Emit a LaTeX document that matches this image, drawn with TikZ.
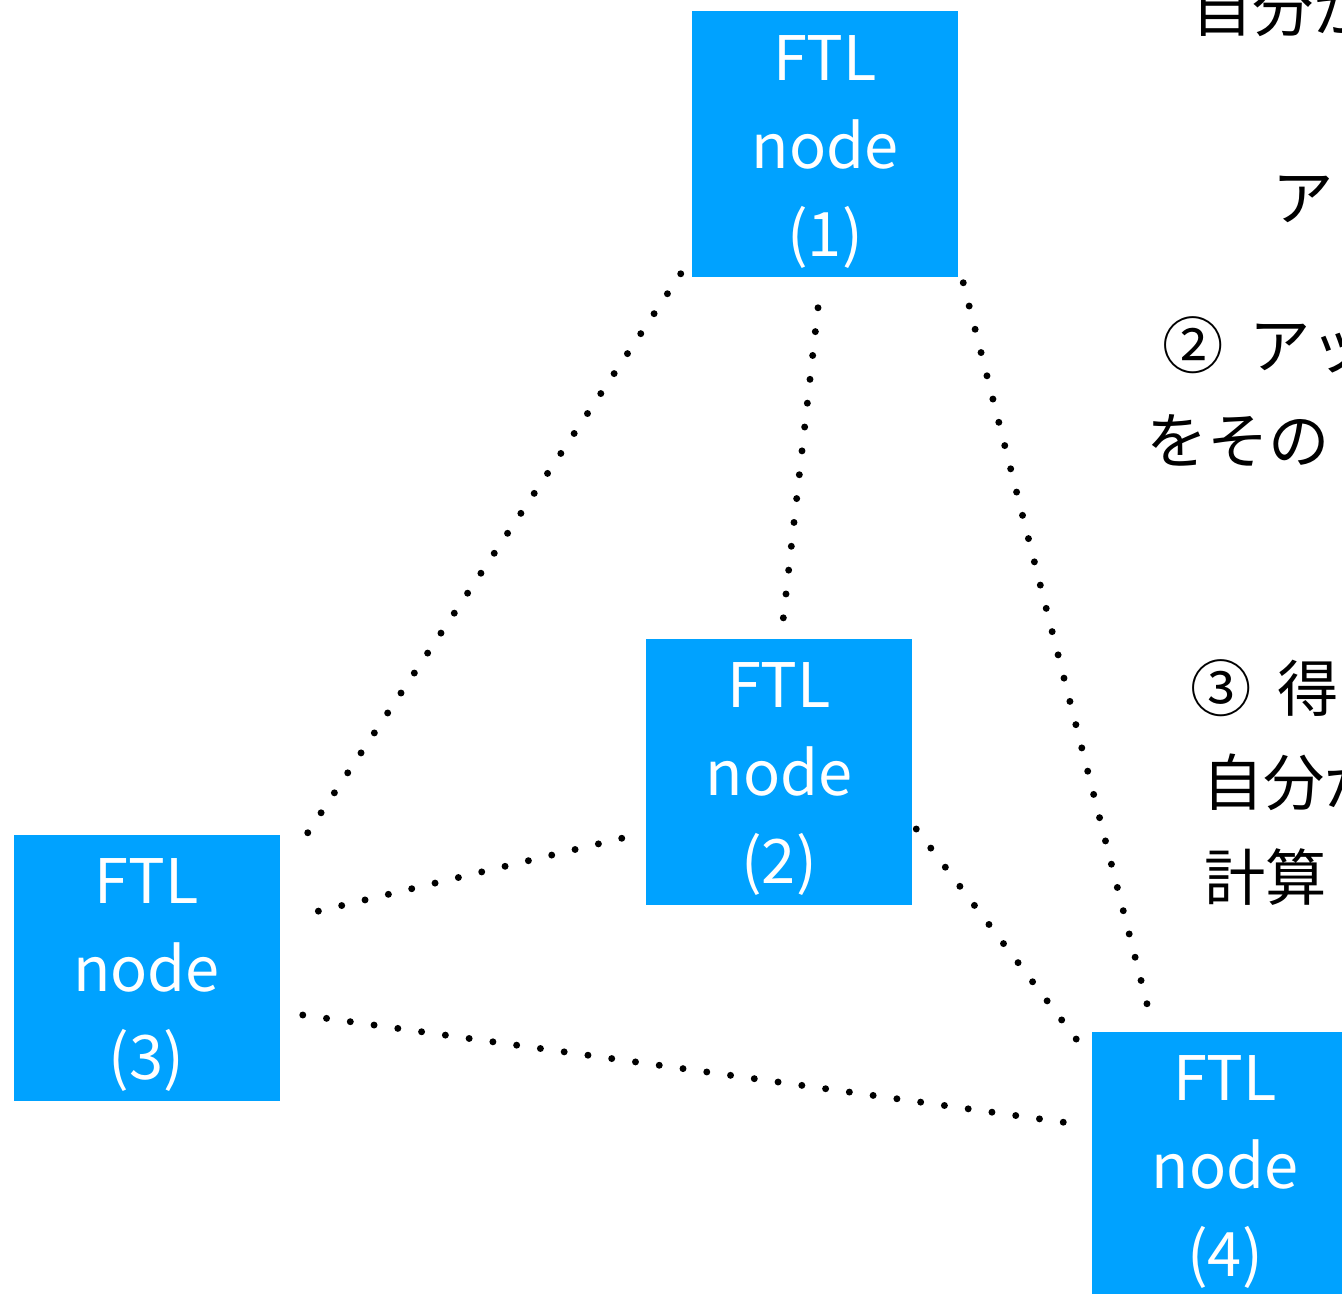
\documentclass[tikz,border=0pt]{standalone}
\usepackage{fontspec}
\setmainfont{Noto Sans CJK JP}
\usetikzlibrary{positioning}
\definecolor{ftlblue}{RGB}{0,162,255}
\tikzset{
	ftltext/.style={text=white, inner sep=0pt, align=center, font=\fontsize{46}{66}\selectfont},
	ftlbox/.style={fill=ftlblue, minimum width=199.5pt, minimum height=199.5pt, inner sep=0pt,
		label={[ftltext, yshift=-5.5pt]center:FTL\\node\\(#1)}},
	link/.style={line width=5.2pt, line cap=round, dash pattern=on 0pt off 18pt},
	note/.style={anchor=west, inner sep=0pt, font=\fontsize{46}{66}\selectfont}
}
\begin{document}
\begin{tikzpicture}[x=0.75pt, y=-0.75pt]
		\useasboundingbox (0,0) rectangle (1342,1294);
		\clip (0,0) rectangle (1342,1294);
		\node[ftlbox=1] (n1) at (825,144.5) {};
		\node[ftlbox=2] (n2) at (779,772) {};
		\node[ftlbox=3] (n3) at (146.5,968) {};
		\node[ftlbox=4] (n4) at (1225,1165) {};
		% dotted links
		\draw[link] ([shift={(-11,-4)}]n1.south west) -- ([shift={(26,1)}]n3.north east);
		\draw[link] ([shift={(-7,30)}]n1.south) -- ([shift={(4,-18)}]n2.north);
		\draw[link] ([shift={(5,5)}]n1.south east) -- ([shift={(56,-25)}]n4.north west);
		\draw[link] ([shift={(-24,-67)}]n2.south west) -- ([shift={(35,-56)}]n3.east);
		\draw[link] ([shift={(4,57)}]n2.east) -- ([shift={(-15,8)}]n4.north west);
		\draw[link] ([shift={(23,47)}]n3.east) -- ([shift={(-23,-42)}]n4.west);
		% text on the right, cut by the edge
		\node[note] (t1) at (1191,8) {自分が};
		\node[note] (t2) at (1272,199) {ア};
		\node[note] (t3) at (1162,345) {②\hspace{0.42em}アッ};
		\node[note] (t4) at (1146,441) {をその};
		\node[note] (t5) at (1190,688) {③\hspace{0.42em}得};
		\node[note] (t6) at (1202,782) {自分が};
		\node[note] (t7) at (1204,877) {計算};
	\end{tikzpicture}
\end{document}
